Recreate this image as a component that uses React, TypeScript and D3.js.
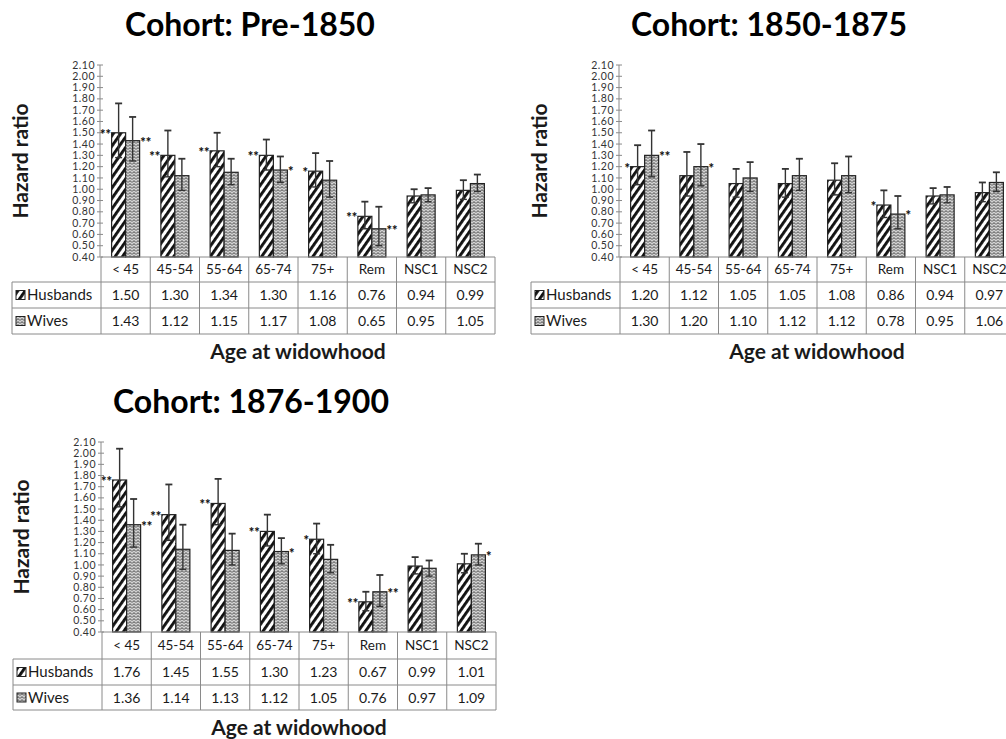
import React from "react";
import * as d3 from "d3";

// categories and ticks
const categories = ["< 45", "45-54", "55-64", "65-74", "75+", "Rem", "NSC1", "NSC2"];
const yTicks = [2.1, 2.0, 1.9, 1.8, 1.7, 1.6, 1.5, 1.4, 1.3, 1.2, 1.1, 1.0, 0.9, 0.8, 0.7, 0.6, 0.5, 0.4];
const seriesNames = ["Husbands", "Wives"];

// Cohort: Pre-1850
const preHusbands = [1.5, 1.3, 1.34, 1.3, 1.16, 0.76, 0.94, 0.99];
const preWives = [1.43, 1.12, 1.15, 1.17, 1.08, 0.65, 0.95, 1.05];
const preHusbandsLow = [1.28, 1.11, 1.2, 1.17, 1.02, 0.65, 0.88, 0.91];
const preHusbandsHigh = [1.76, 1.52, 1.5, 1.44, 1.32, 0.89, 1.0, 1.08];
const preWivesLow = [1.25, 0.99, 1.04, 1.06, 0.93, 0.5, 0.89, 0.98];
const preWivesHigh = [1.64, 1.27, 1.27, 1.29, 1.25, 0.845, 1.01, 1.13];
const preHusbandsSig = ["**", "**", "**", "**", "*", "**", "", ""];
const preWivesSig = ["**", "", "", "*", "", "**", "", ""];

// Cohort: 1850-1875
const midHusbands = [1.2, 1.12, 1.05, 1.05, 1.08, 0.86, 0.94, 0.97];
const midWives = [1.3, 1.2, 1.1, 1.12, 1.12, 0.78, 0.95, 1.06];
const midHusbandsLow = [1.04, 0.94, 0.93, 0.93, 0.95, 0.75, 0.87, 0.89];
const midHusbandsHigh = [1.39, 1.33, 1.18, 1.18, 1.23, 0.99, 1.01, 1.06];
const midWivesLow = [1.11, 1.03, 0.98, 0.99, 0.97, 0.65, 0.88, 0.98];
const midWivesHigh = [1.52, 1.4, 1.24, 1.27, 1.29, 0.94, 1.02, 1.15];
const midHusbandsSig = ["*", "", "", "", "", "*", "", ""];
const midWivesSig = ["**", "*", "", "", "", "*", "", ""];

// Cohort: 1876-1900
const lateHusbands = [1.76, 1.45, 1.55, 1.3, 1.23, 0.67, 0.99, 1.01];
const lateWives = [1.36, 1.14, 1.13, 1.12, 1.05, 0.76, 0.97, 1.09];
const lateHusbandsLow = [1.52, 1.22, 1.36, 1.17, 1.1, 0.59, 0.92, 0.93];
const lateHusbandsHigh = [2.04, 1.72, 1.77, 1.45, 1.37, 0.76, 1.07, 1.1];
const lateWivesLow = [1.16, 0.96, 1.0, 1.01, 0.93, 0.63, 0.9, 1.0];
const lateWivesHigh = [1.59, 1.36, 1.28, 1.24, 1.18, 0.91, 1.04, 1.19];
const lateHusbandsSig = ["**", "**", "**", "**", "*", "**", "", ""];
const lateWivesSig = ["**", "", "", "*", "", "**", "", "*"];

const FONT = "Lato, 'Open Sans', sans-serif";
const TXT = "#1a1a1a";
const GRID = "#8a8a8a";

interface PanelProps {
  title: string;
  ox: number;
  top: number;
  bottom: number;
  rows: number[];
  husbands: number[];
  wives: number[];
  hLow: number[];
  hHigh: number[];
  wLow: number[];
  wHigh: number[];
  hSig: string[];
  wSig: string[];
}

const Panel = (p: PanelProps) => {
  const { ox, top, bottom, rows } = p;
  const axisX = ox + 100;
  const colStart = ox + 101;
  const colEnd = ox + 495;
  const tableLeft = ox + 12;

  const y = d3.scaleLinear().domain([0.4, 2.1]).range([bottom, top]);
  const x = d3.scaleBand().domain(categories).range([colStart, colEnd]).padding(0);
  const bw = x.bandwidth();
  const inner = d3
    .scaleBand()
    .domain(seriesNames)
    .range([bw / 2 - 14, bw / 2 + 14]);

  const series = [
    { name: "Husbands", vals: p.husbands, lo: p.hLow, hi: p.hHigh, sig: p.hSig, fill: "url(#stripes)" },
    { name: "Wives", vals: p.wives, lo: p.wLow, hi: p.wHigh, sig: p.wSig, fill: "url(#zigzag)" },
  ];

  const rowY = [bottom, bottom + rows[0], bottom + rows[0] + rows[1], bottom + rows[0] + rows[1] + rows[2]];
  const tableBottom = rowY[3];

  return (
    <g>
      <text x={ox + 250} y={top - 29} textAnchor="middle" fontFamily={FONT} fontWeight={700} fontSize={32} fill="#000">
        {p.title}
      </text>
      <text
        transform={`translate(${ox + 28},${(top + bottom) / 2}) rotate(-90)`}
        textAnchor="middle"
        fontFamily={FONT}
        fontWeight={700}
        fontSize={21}
        fill={TXT}
      >
        Hazard ratio
      </text>

      {/* y axis */}
      <line x1={axisX} x2={axisX} y1={top} y2={bottom} stroke={GRID} />
      {yTicks.map((t) => (
        <g key={t}>
          <line x1={axisX - 3} x2={axisX + 3} y1={y(t)} y2={y(t)} stroke={GRID} />
          <text x={axisX - 5} y={y(t) + 3.6} textAnchor="end" fontFamily={FONT} fontSize={10.5} fill="#333" letterSpacing={0.5}>
            {t.toFixed(2)}
          </text>
        </g>
      ))}

      {/* bars */}
      {series.map((s) =>
        categories.map((c, i) => {
          const bx = (x(c) as number) + (inner(s.name) as number);
          const w = inner.bandwidth();
          const cx = bx + w / 2;
          return (
            <g key={s.name + c}>
              <rect x={bx} y={y(s.vals[i])} width={w} height={bottom - y(s.vals[i])} fill={s.fill} stroke="#222" strokeWidth={1.2} />
              <line x1={cx} x2={cx} y1={y(s.lo[i])} y2={y(s.hi[i])} stroke="#333" strokeWidth={1.4} />
              <line x1={cx - 3.5} x2={cx + 3.5} y1={y(s.hi[i])} y2={y(s.hi[i])} stroke="#333" strokeWidth={1.8} />
              <line x1={cx - 3.5} x2={cx + 3.5} y1={y(s.lo[i])} y2={y(s.lo[i])} stroke="#333" strokeWidth={1.4} />
              {s.sig[i] && (
                <text
                  x={s.name === "Husbands" ? bx - 0.5 : bx + w + 0.5}
                  y={y(s.vals[i]) + 6}
                  textAnchor={s.name === "Husbands" ? "end" : "start"}
                  fontFamily={FONT}
                  fontWeight={900}
                  fontSize={13}
                  fill="#111"
                >
                  {s.sig[i]}
                </text>
              )}
            </g>
          );
        })
      )}

      {/* data table */}
      <g stroke={GRID} strokeWidth={1} fill="none">
        <line x1={colStart} x2={colEnd} y1={rowY[0]} y2={rowY[0]} />
        {rowY.slice(1).map((ry) => (
          <line key={ry} x1={tableLeft} x2={colEnd} y1={ry} y2={ry} />
        ))}
        <line x1={tableLeft} x2={tableLeft} y1={rowY[1]} y2={tableBottom} />
        {categories.map((c) => (
          <line key={c} x1={x(c) as number} x2={x(c) as number} y1={rowY[0]} y2={tableBottom} />
        ))}
        <line x1={colEnd} x2={colEnd} y1={rowY[0]} y2={tableBottom} />
      </g>
      {categories.map((c) => (
        <text
          key={c}
          x={(x(c) as number) + bw / 2}
          y={(rowY[0] + rowY[1]) / 2 + 4.8}
          textAnchor="middle"
          fontFamily={FONT}
          fontSize={13.5}
          fill={TXT}
        >
          {c}
        </text>
      ))}
      {series.map((s, r) => (
        <g key={s.name}>
          <rect x={tableLeft + 4} y={(rowY[r + 1] + rowY[r + 2]) / 2 - 4.5} width={9} height={9} fill={s.fill} stroke="#222" />
          <text x={tableLeft + 15} y={(rowY[r + 1] + rowY[r + 2]) / 2 + 5} fontFamily={FONT} fontSize={15} fill={TXT}>
            {s.name}
          </text>
          {categories.map((c, i) => (
            <text
              key={c}
              x={(x(c) as number) + bw / 2}
              y={(rowY[r + 1] + rowY[r + 2]) / 2 + 5}
              textAnchor="middle"
              fontFamily={FONT}
              fontSize={14}
              fill={TXT}
            >
              {s.vals[i].toFixed(2)}
            </text>
          ))}
        </g>
      ))}

      <text x={(colStart + colEnd) / 2} y={tableBottom + 25} textAnchor="middle" fontFamily={FONT} fontWeight={700} fontSize={21} fill={TXT}>
        Age at widowhood
      </text>
    </g>
  );
};

export default function App() {
  return (
    <svg
      width={1006}
      height={739}
      style={{ position: "absolute", left: 0, top: 0, background: "#fff" }}
    >
      <defs>
        <pattern id="stripes" patternUnits="userSpaceOnUse" width={6} height={6} patternTransform="rotate(35)">
          <rect width={6} height={6} fill="#fff" />
          <rect width={2.9} height={6} fill="#111" />
        </pattern>
        <pattern id="zigzag" patternUnits="userSpaceOnUse" width={4} height={3}>
          <rect width={4} height={3} fill="#d2d2d2" />
          <path d="M0,2.6 L2,0.6 L4,2.6" fill="none" stroke="#444" strokeWidth={1} />
        </pattern>
      </defs>
      <rect width={1006} height={739} fill="#fff" />
      <Panel
        title="Cohort: Pre-1850"
        ox={0}
        top={65}
        bottom={257}
        rows={[25, 26, 26]}
        husbands={preHusbands}
        wives={preWives}
        hLow={preHusbandsLow}
        hHigh={preHusbandsHigh}
        wLow={preWivesLow}
        wHigh={preWivesHigh}
        hSig={preHusbandsSig}
        wSig={preWivesSig}
      />
      <Panel
        title="Cohort: 1850-1875"
        ox={519}
        top={65}
        bottom={257}
        rows={[25, 26, 26]}
        husbands={midHusbands}
        wives={midWives}
        hLow={midHusbandsLow}
        hHigh={midHusbandsHigh}
        wLow={midWivesLow}
        wHigh={midWivesHigh}
        hSig={midHusbandsSig}
        wSig={midWivesSig}
      />
      <Panel
        title="Cohort: 1876-1900"
        ox={1}
        top={442}
        bottom={632}
        rows={[27, 26, 25]}
        husbands={lateHusbands}
        wives={lateWives}
        hLow={lateHusbandsLow}
        hHigh={lateHusbandsHigh}
        wLow={lateWivesLow}
        wHigh={lateWivesHigh}
        hSig={lateHusbandsSig}
        wSig={lateWivesSig}
      />
    </svg>
  );
}
